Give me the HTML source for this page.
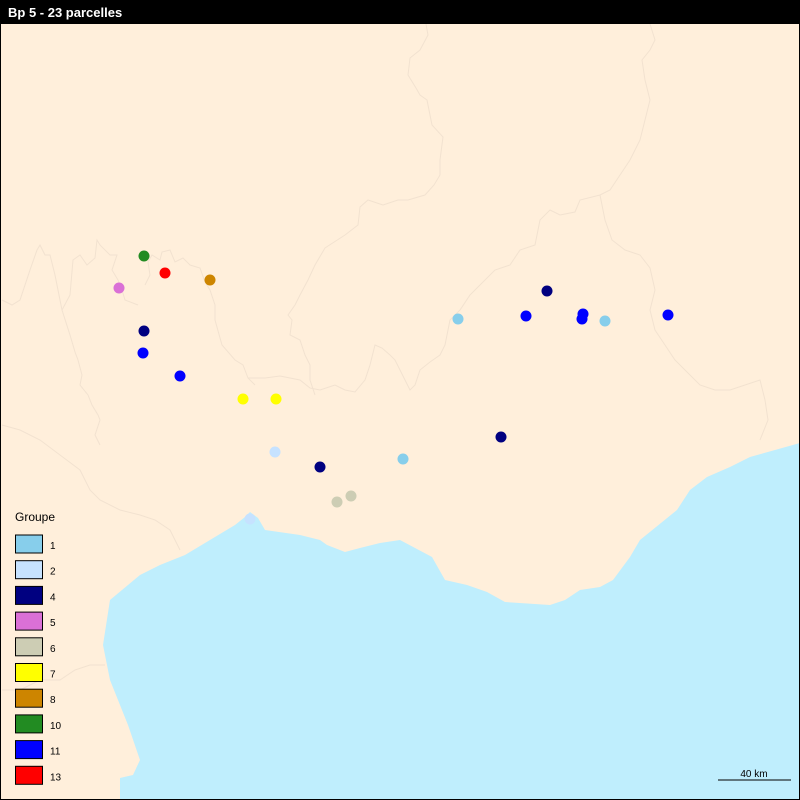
<!DOCTYPE html>
<html><head><meta charset="utf-8"><style>
body{margin:0;background:#fff}
svg{display:block}
</style></head><body>
<svg width="800" height="800" viewBox="0 0 800 800" xmlns="http://www.w3.org/2000/svg">
<rect x="0" y="0" width="800" height="800" fill="#FFEFDB"/>
<polygon fill="#BFEEFD" points="120,800 120,778 133,775 140,760 128,725 118,700 110,680 103,645 110,600 128,585 140,575 160,565 185,555 210,540 235,525 245,517 250,512 258,518 265,530 300,535 320,540 327,545 345,552 360,548 380,543 400,540 432,557 445,580 467,585 487,592 505,602 550,605 565,600 580,590 600,587 613,580 630,557 640,540 677,510 690,490 707,477 730,467 750,457 800,443 800,800"/>
<g fill="none" stroke="#F2E2D0" stroke-width="1">
<polyline points="426,24 428,35 420,50 410,58 408,75 416,88 420,95 427,100 432,125 443,137 440,160 440,175 434,185 425,195 408,200 398,200 383,205 368,200 360,207 358,225 345,235 325,248 315,265 308,280 300,295 295,305 288,315 292,320 290,335 300,340 305,355 310,365 310,380 315,395"/>
<polyline points="2,300 12,305 20,300 30,270 37,250 40,245 45,255 50,255 55,275 58,290 62,310 70,335 75,352 78,360 82,375 80,385 88,395 92,405 98,415 100,420 95,435 100,445"/>
<polyline points="62,310 70,295 73,260 80,255 87,265 95,258 97,240 100,245 110,255 117,255 112,270 118,280 122,290 125,300 138,305"/>
<polyline points="145,285 150,275 148,262 152,255 160,260 162,252 170,250 175,262 183,258 190,265 200,268 205,282 210,290 215,305 215,320 222,345 235,360 243,365 248,378 255,385"/>
<polyline points="248,378 265,378 280,376 300,380 310,388 320,390 335,385 345,390 355,392 365,380 370,365 375,345 382,348 390,355 395,360 400,370 405,380 410,390 415,385 420,370 430,362 440,355 445,345 450,320 460,310 470,295 480,285 495,270 510,265 520,250 535,245 540,220 550,210 560,215 575,212 580,200 600,195 610,190 620,175 630,160 640,140 645,120 650,100 645,80 642,60 650,50 655,40 650,24"/>
<polyline points="600,195 605,220 612,240 625,250 640,255 650,268 655,290 650,310 655,330 665,345 675,360 690,375 700,385 715,390 730,390 745,385 760,380 765,400 768,420 760,440"/>
<polyline points="180,550 170,530 155,520 140,515 120,510 100,500 90,490 80,470 60,455 40,440 20,430 2,425"/>
<polyline points="2,690 20,690 40,680 60,680 75,670 90,665 105,665"/>
</g>
<g id="points"></g>
<rect x="0" y="0" width="800" height="24" fill="#000"/>
<text x="8" y="17" fill="#fff" font-family="Liberation Sans, sans-serif" font-size="13" font-weight="bold">Bp 5 - 23 parcelles</text>
<text x="15" y="521" fill="#000" font-family="Liberation Sans, sans-serif" font-size="12">Groupe</text>
<g id="legend"></g>
<line x1="718" y1="780" x2="791" y2="780" stroke="#000" stroke-width="1"/>
<text x="754" y="777" text-anchor="middle" fill="#000" font-family="Liberation Sans, sans-serif" font-size="10">40 km</text>
<rect x="0.5" y="0.5" width="799" height="799" fill="none" stroke="#000"/>
</svg>
<script>
const groups = ["1","2","4","5","6","7","8","10","11","13"];
const groupColors = ["#87CEEB","#C6E2FF","#000080","#DA70D6","#CDCDB4","#FFFF00","#CD8500","#228B22","#0000FF","#FF0000"];
const pointX = [144,165,210,119,144,143,180,243,276,275,320,403,351,337,250,458,526,547,583,582,605,668,501];
const pointY = [256,273,280,288,331,353,376,399,399,452,467,459,496,502,519,319,316,291,314,319,321,315,437];
const pointGroup = ["10","13","8","5","4","11","11","7","7","2","4","1","6","6","2","1","11","4","11","11","1","11","4"];
const NS="http://www.w3.org/2000/svg";
const pg=document.getElementById('points');
for(let i=0;i<pointX.length;i++){
  const c=document.createElementNS(NS,'circle');
  c.setAttribute('cx',pointX[i]);c.setAttribute('cy',pointY[i]);c.setAttribute('r',5.5);
  c.setAttribute('fill',groupColors[groups.indexOf(pointGroup[i])]);
  
  
  pg.appendChild(c);
}
const lg=document.getElementById('legend');
for(let i=0;i<groups.length;i++){
  const y=535+i*25.7;
  const r=document.createElementNS(NS,'rect');
  r.setAttribute('x',15.5);r.setAttribute('y',y);r.setAttribute('width',27);r.setAttribute('height',18);
  r.setAttribute('fill',groupColors[i]);r.setAttribute('stroke','#000');
  
  
  lg.appendChild(r);
  const t=document.createElementNS(NS,'text');
  t.setAttribute('x',50);t.setAttribute('y',y+14);t.setAttribute('font-size','10');
  t.setAttribute('font-family','Liberation Sans, sans-serif');
  t.textContent=groups[i];
  
  
  lg.appendChild(t);
}
</script>
</body></html>
